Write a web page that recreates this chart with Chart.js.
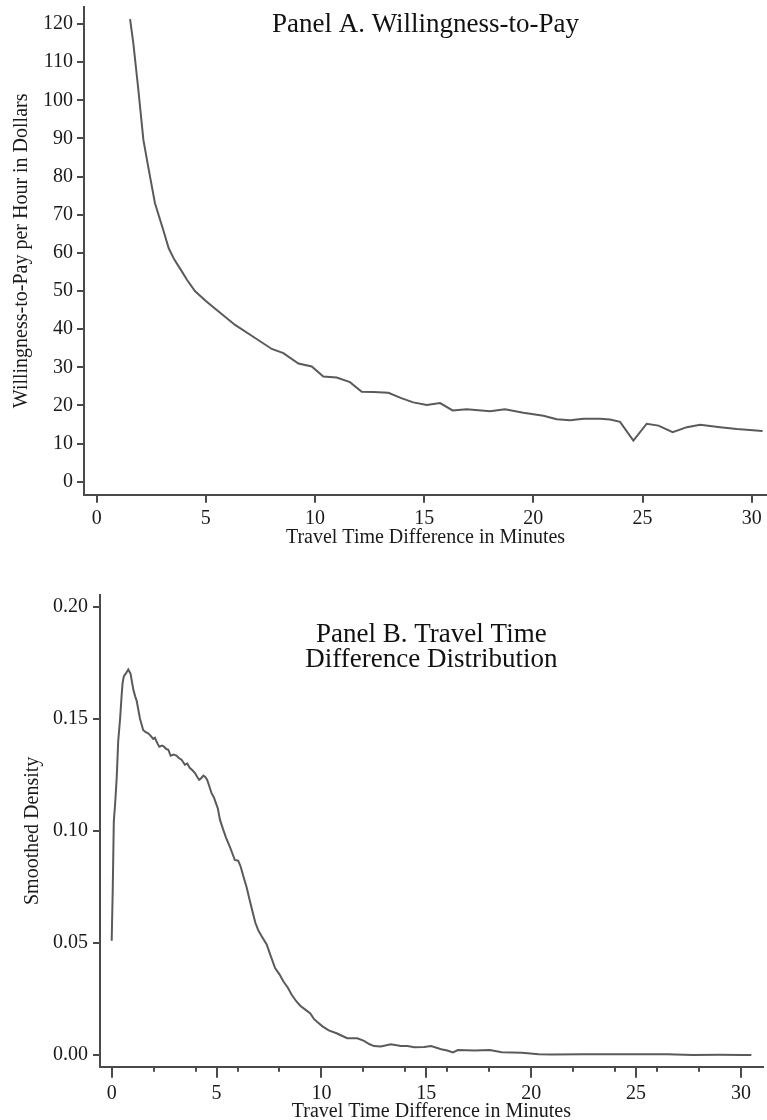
<!DOCTYPE html>
<html>
<head>
<meta charset="utf-8">
<title>Willingness-to-Pay and Travel Time Difference</title>
<script src="https://cdn.jsdelivr.net/npm/chart.js@4.4.1/dist/chart.umd.min.js"></script>
<style>
  body { margin: 0; background: #fff; }
  canvas { display: block; }
</style>
</head>
<body>
<canvas id="panelA" width="767" height="560"></canvas>
<canvas id="panelB" width="767" height="560"></canvas>
<script>
// Panel A: willingness-to-pay per hour
const wtpMinutes = [1.53, 1.68, 1.91, 2.14, 2.36, 2.67, 3.05, 3.30, 3.55, 3.85,
  4.15, 4.50, 5.00, 5.50, 6.34, 7.17, 8.02, 8.55, 9.24, 9.85,
  10.38, 10.99, 11.60, 12.14, 12.67, 13.36, 13.95, 14.50, 15.12, 15.73,
  16.30, 16.95, 18.02, 18.70, 19.54, 20.46, 21.07, 21.68, 22.29, 23.06,
  23.51, 23.97, 24.58, 25.19, 25.73, 26.38, 27.03, 27.64, 28.55, 29.32, 30.50];
const wtpDollars = [121.3, 114.9, 102.7, 89.6, 82.6, 73.0, 66.0, 61.2, 58.3, 55.6,
  52.8, 50.0, 47.4, 45.0, 41.1, 38.0, 34.8, 33.7, 31.0, 30.2,
  27.6, 27.3, 26.1, 23.6, 23.5, 23.3, 21.9, 20.8, 20.1, 20.6,
  18.7, 19.0, 18.5, 19.0, 18.1, 17.3, 16.4, 16.1, 16.5, 16.5,
  16.3, 15.7, 10.8, 15.2, 14.7, 13.0, 14.3, 14.9, 14.3, 13.8, 13.3];

// Panel B: smoothed density of travel time difference
const densMinutes = [0.00, 0.05, 0.10, 0.17, 0.24, 0.31, 0.40, 0.47, 0.52, 0.58,
  0.66, 0.79, 0.90, 1.03, 1.12, 1.19, 1.35, 1.50, 1.62, 1.74,
  1.85, 1.98, 2.06, 2.18, 2.27, 2.40, 2.49, 2.60, 2.70, 2.81,
  2.95, 3.09, 3.20, 3.33, 3.49, 3.60, 3.73, 3.85, 3.97, 4.08,
  4.17, 4.27, 4.37, 4.46, 4.55, 4.65, 4.76, 4.87, 4.97, 5.06,
  5.16, 5.30, 5.45, 5.63, 5.75, 5.87, 6.03, 6.15, 6.30, 6.43,
  6.58, 6.74, 6.85, 6.98, 7.15, 7.39, 7.55, 7.79, 8.00, 8.19,
  8.40, 8.59, 8.80, 8.99, 9.20, 9.47, 9.65, 9.79, 10.05, 10.35,
  10.75, 11.00, 11.23, 11.71, 12.03, 12.30, 12.51, 12.83, 13.31, 13.79,
  14.10, 14.43, 14.90, 15.23, 15.71, 16.00, 16.27, 16.51, 17.31, 18.03,
  18.60, 19.56, 20.36, 21.00, 22.50, 23.70, 24.50, 26.50, 27.70, 29.00,
  30.00, 30.50];
const densValues = [0.051, 0.074, 0.104, 0.113, 0.124, 0.140, 0.150, 0.160, 0.166, 0.169,
  0.170, 0.172, 0.170, 0.163, 0.160, 0.158, 0.150, 0.145, 0.144, 0.1435,
  0.1425, 0.141, 0.1415, 0.139, 0.1375, 0.138, 0.1376, 0.1365, 0.1362, 0.1335,
  0.134, 0.1336, 0.1325, 0.1317, 0.1295, 0.130, 0.128, 0.127, 0.1258, 0.124,
  0.1228, 0.1235, 0.1246, 0.124, 0.1228, 0.120, 0.1168, 0.115, 0.1124, 0.110,
  0.105, 0.101, 0.097, 0.093, 0.090, 0.087, 0.0867, 0.084, 0.079, 0.075,
  0.069, 0.063, 0.059, 0.0558, 0.053, 0.0493, 0.045, 0.0388, 0.036, 0.0328,
  0.030, 0.0268, 0.024, 0.022, 0.0205, 0.0186, 0.016, 0.0148, 0.0128, 0.011,
  0.0096, 0.0085, 0.0075, 0.0075, 0.0063, 0.0048, 0.0040, 0.0038, 0.0048, 0.0040,
  0.0040, 0.0035, 0.0036, 0.0040, 0.0026, 0.0020, 0.0012, 0.0022, 0.0020, 0.0022,
  0.0012, 0.0010, 0.0003, 0.0002, 0.0003, 0.0004, 0.0003, 0.0003, 0.0000, 0.0001,
  0.0000, 0.0000];

const xMajorTicks = [0, 5, 10, 15, 20, 25, 30];
const xMinorTicks = [2, 4, 6, 8, 12, 14, 16, 18, 22, 24, 26, 28];
const wtpYTicks = [0, 10, 20, 30, 40, 50, 60, 70, 80, 90, 100, 110, 120];
const densYTicks = [0, 0.05, 0.10, 0.15, 0.20];

Chart.defaults.font.family = '"Liberation Serif", "Times New Roman", serif';
Chart.defaults.font.size = 20;
Chart.defaults.color = '#1a1a1a';

const AXIS_COLOR = '#4a4a4a';
const LINE_COLOR = '#5a5a5a';

// heading drawn inside the plot area
const panelTitle = {
  id: 'panelTitle',
  afterDraw(chart, args, opts) {
    const ctx = chart.ctx;
    const area = chart.chartArea;
    const cx = (area.left + area.right) / 2;
    ctx.save();
    ctx.font = '27px "Liberation Serif"';
    ctx.fillStyle = '#111';
    ctx.textAlign = 'center';
    ctx.textBaseline = 'alphabetic';
    opts.lines.forEach(function (line, i) {
      ctx.fillText(line, cx, opts.baseline + i * opts.lineGap);
    });
    ctx.restore();
  }
};

// short unlabelled ticks under the x axis
const minorTicks = {
  id: 'minorTicks',
  afterDraw(chart, args, opts) {
    if (!opts.values || !opts.values.length) return;
    const ctx = chart.ctx;
    const xs = chart.scales.x;
    ctx.save();
    ctx.strokeStyle = AXIS_COLOR;
    ctx.lineWidth = 2;
    ctx.beginPath();
    opts.values.forEach(function (v) {
      const px = Math.round(xs.getPixelForValue(v));
      ctx.moveTo(px, xs.top);
      ctx.lineTo(px, xs.top + opts.length);
    });
    ctx.stroke();
    ctx.restore();
  }
};

function makeChart(id, cfg) {
  const points = cfg.xs.map(function (x, i) { return { x: x, y: cfg.ys[i] }; });

  return new Chart(document.getElementById(id), {
    type: 'line',
    data: {
      datasets: [{
        data: points,
        borderColor: LINE_COLOR,
        borderWidth: 2,
        pointRadius: 0,
        tension: 0,
        fill: false
      }]
    },
    options: {
      responsive: false,
      animation: false,
      events: [],
      layout: { padding: cfg.padding },
      plugins: {
        legend: { display: false },
        tooltip: { enabled: false },
        panelTitle: { lines: cfg.title, baseline: cfg.titleBaseline, lineGap: 25 },
        minorTicks: { values: cfg.minor, length: 5 }
      },
      scales: {
        x: {
          type: 'linear',
          min: cfg.xMin,
          max: cfg.xMax,
          afterBuildTicks: function (s) { s.ticks = xMajorTicks.map(function (v) { return { value: v }; }); },
          afterFit: function (s) { s.height = cfg.xHeight; s.paddingLeft = 0; s.paddingRight = 0; },
          grid: { drawOnChartArea: false, drawTicks: true, tickLength: cfg.xTickLength, color: AXIS_COLOR, lineWidth: 2 },
          border: { color: AXIS_COLOR, width: 2 },
          ticks: { padding: 4, autoSkip: false, maxRotation: 0, color: '#1a1a1a' },
          title: {
            display: true,
            text: 'Travel Time Difference in Minutes',
            font: { size: 20, lineHeight: 1.2 },
            color: '#1a1a1a',
            padding: { top: 0, bottom: cfg.xTitlePad }
          }
        },
        y: {
          min: cfg.yMin,
          max: cfg.yMax,
          afterBuildTicks: function (s) { s.ticks = cfg.yTicks.map(function (v) { return { value: v }; }); },
          afterFit: function (s) { s.width = cfg.yWidth; s.paddingTop = 0; s.paddingBottom = 0; },
          grid: { drawOnChartArea: false, drawTicks: true, tickLength: 7, color: AXIS_COLOR, lineWidth: 2 },
          border: { color: AXIS_COLOR, width: 2 },
          ticks: { padding: cfg.yTickPad, autoSkip: false, color: '#1a1a1a', callback: cfg.yFormat },
          title: {
            display: true,
            text: cfg.yTitle,
            font: { size: 20, lineHeight: 1.2 },
            color: '#1a1a1a',
            padding: { top: cfg.yTitlePad, bottom: 0 }
          }
        }
      }
    },
    plugins: [panelTitle, minorTicks]
  });
}

makeChart('panelA', {
  xs: wtpMinutes,
  ys: wtpDollars,
  title: ['Panel A. Willingness-to-Pay'],
  titleBaseline: 32,
  padding: { top: 7, right: 0, bottom: 0, left: 0 },
  xMin: -0.58, xMax: 30.70,
  yMin: -3.41, yMax: 124.46,
  yTicks: wtpYTicks,
  yFormat: function (v) { return v; },
  yTitle: 'Willingness-to-Pay per Hour in Dollars',
  xHeight: 65.3, yWidth: 84,
  xTickLength: 8, yTickPad: 4,
  xTitlePad: 10, yTitlePad: 9.5,
  minor: []
});

makeChart('panelB', {
  xs: densMinutes,
  ys: densValues,
  title: ['Panel B. Travel Time', 'Difference Distribution'],
  titleBaseline: 82,
  padding: { top: 35, right: 4.3, bottom: 0, left: 0 },
  xMin: -0.558, xMax: 31.04,
  yMin: -0.0052, yMax: 0.2052,
  yTicks: densYTicks,
  yFormat: function (v) { return v.toFixed(2); },
  yTitle: 'Smoothed Density',
  xHeight: 53.3, yWidth: 100,
  xTickLength: 11, yTickPad: 5,
  xTitlePad: -4, yTitlePad: 21,
  minor: xMinorTicks
});
</script>
</body>
</html>
